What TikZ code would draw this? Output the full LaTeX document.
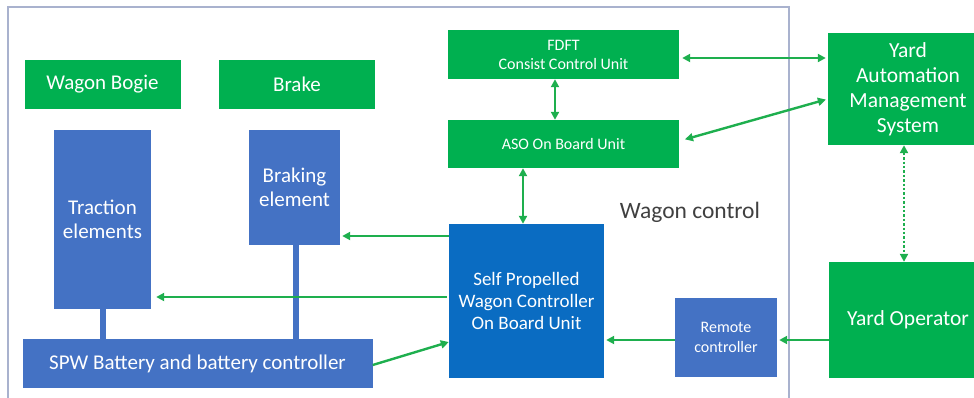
\documentclass[tikz,border=0pt]{standalone}
\usepackage{fontspec}
\setmainfont{Carlito}
\usetikzlibrary{arrows.meta}

\definecolor{yardgreen}{HTML}{00B050}
\definecolor{linkgreen}{HTML}{1EAF4E}
\definecolor{unitblue}{HTML}{4472C4}
\definecolor{ctrlblue}{HTML}{0A6CC2}
\definecolor{framegrey}{HTML}{A9B2CE}
\definecolor{labelgrey}{HTML}{404040}

\begin{document}
\begin{tikzpicture}[x=1pt,y=-1pt,
		gbox/.style={fill=yardgreen, text=white, align=center, inner sep=0pt},
		bbox/.style={fill=unitblue, text=white, align=center, inner sep=0pt},
		link/.style={draw=linkgreen, line width=2.4pt, >={Triangle[length=8pt,width=8pt]}},
		bar/.style={draw=unitblue, line width=6pt}]
		\useasboundingbox (0,0) rectangle (974,397);

		% wagon control frame
		\draw[framegrey, line width=1.4pt] (8,400) |- (789,7) -- (789,400);
		\node[labelgrey, font=\fontsize{23.5}{27}\selectfont] (wclabel) at (690,212) {Wagon control};

		% bogie and brake
		\node[gbox, minimum width=156pt, minimum height=49pt, font=\fontsize{21}{25}\selectfont] (bogie) at (102.5,84) {Wagon Bogie};
		\node[gbox, minimum width=156pt, minimum height=49pt, font=\fontsize{21}{25}\selectfont] (brake) at (297,84) {Brake};

		% elements and battery
		\node[bbox, minimum width=97pt, minimum height=179pt, font=\fontsize{21}{24}\selectfont] (traction) at (102.5,219.5) {Traction\\elements};
		\node[bbox, minimum width=91pt, minimum height=115pt, font=\fontsize{21}{24}\selectfont] (braking) at (294.5,187.5) {Braking\\element};
		\node[bbox, minimum width=350pt, minimum height=49pt, font=\fontsize{21}{25}\selectfont] (battery) at (197.5,363.5) {SPW Battery and battery controller};
		\draw[bar] (traction.south) -- (traction.south |- battery.north);
		\draw[bar] ([xshift=1.5pt]braking.south) -- ([xshift=1.5pt]braking.south |- battery.north);

		% on board units
		\node[gbox, minimum width=231pt, minimum height=49pt, font=\fontsize{16}{19}\selectfont] (fdft) at (563.5,54.5) {FDFT\\Consist Control Unit};
		\node[gbox, minimum width=231pt, minimum height=48pt, font=\fontsize{16}{19}\selectfont] (aso) at (563.5,144) {ASO On Board Unit};
		\node[bbox, fill=ctrlblue, minimum width=155pt, minimum height=154pt, font=\fontsize{19}{22}\selectfont] (spwc) at (526.5,301) {Self Propelled\\Wagon Controller\\On Board Unit};
		\node[bbox, minimum width=102pt, minimum height=79pt, font=\fontsize{16}{20}\selectfont] (remote) at (726,337.5) {Remote\\controller};

		% yard side
		\node[gbox, minimum width=160pt, minimum height=112pt, font=\fontsize{21.5}{25}\selectfont] (yams) at (908,89) {Yard\\Automation\\Management\\System};
		\node[gbox, minimum width=158pt, minimum height=116pt, font=\fontsize{21.5}{25}\selectfont] (operator) at (908,320) {Yard Operator};

		% links
		\draw[link, <->] (fdft.south -| 555,0) -- (aso.north -| 555,0);
		\draw[link, <->] (aso.south -| 523,0) -- (spwc.north -| 523,0);
		\draw[link, <->, shorten <=3pt, shorten >=2pt] (fdft.east |- 0,58) -- (yams.west |- 0,58);
		\draw[link, <->, shorten <=6pt, shorten >=2pt] (aso.east |- 0,141) -- (yams.west |- 0,99);
		\draw[link, <->, dotted] (yams.south -| 904,0) -- (operator.north -| 904,0);
		\draw[link, ->, shorten >=2pt] (spwc.west |- 0,236) -- (braking.east |- 0,236);
		\draw[link, ->, shorten <=2pt, shorten >=5pt] (spwc.west |- 0,297) -- (traction.east |- 0,297);
		\draw[link, ->] (battery.east |- 0,365) -- (spwc.west |- 0,342);
		\draw[link, ->, shorten >=2pt] (operator.west |- 0,340) -- (remote.east |- 0,340);
		\draw[link, ->, shorten >=2pt] (remote.west |- 0,340) -- (spwc.east |- 0,340);
	\end{tikzpicture}
\end{document}
